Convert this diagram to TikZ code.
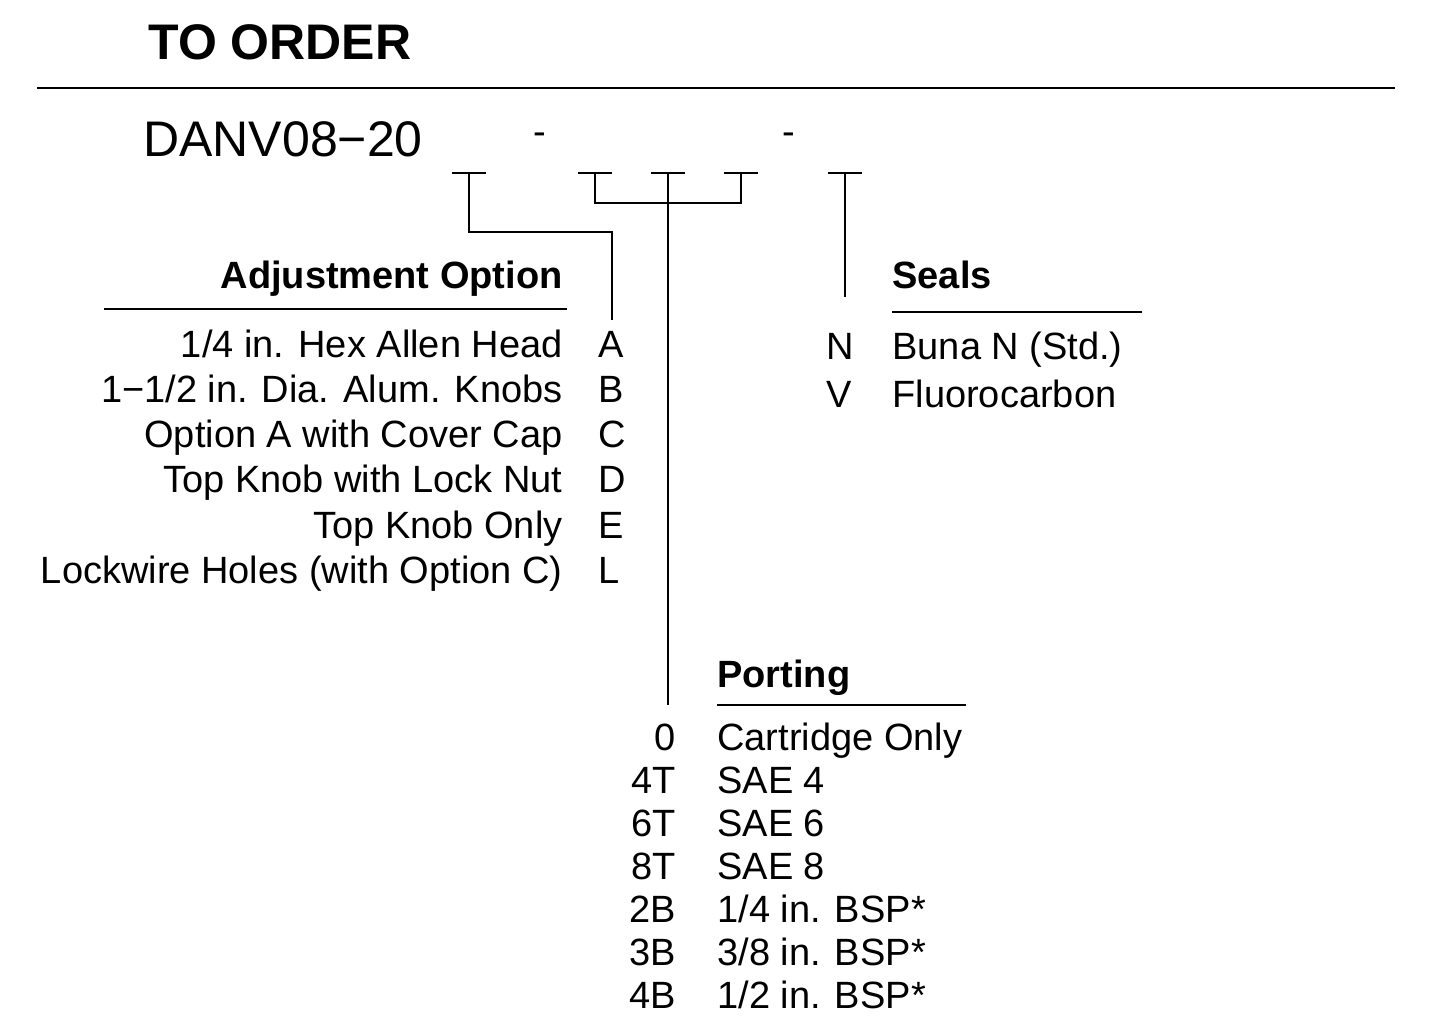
\documentclass[tikz,border=0pt]{standalone}
\usepackage{fontspec}
\setmainfont{Liberation Sans}
\begin{document}
\begin{tikzpicture}[x=0.5pt,y=-0.5pt,
  txt/.style={inner sep=0pt,font=\fontsize{19}{19}\selectfont},
  hd/.style={inner sep=0pt,font=\fontsize{19}{19}\selectfont\bfseries},
  ln/.style={line width=1.1pt}]
\useasboundingbox (0,0) rectangle (1440,1026);
\node[inner sep=0pt,anchor=base west,font=\fontsize{25}{25}\selectfont\bfseries] (title) at (148,60) {TO ORDER};
\coordinate (r1) at (37,88); \coordinate (r2) at (1395,88);
\draw[ln] (r1) -- (r2);
\node[inner sep=0pt,anchor=base west,font=\fontsize{25}{25}\selectfont] (model) at (143,157) {DANV08−20};
\node[txt,anchor=base] (d1) at (540,145) {-};
\node[txt,anchor=base] (d2) at (789,145) {-};
% brackets
\foreach \n/\x in {a/469,b/595,c/668,d/741,e/845}{
  \coordinate (\n l) at (\x-17,173); \coordinate (\n r) at (\x+17,173); \coordinate (\n t) at (\x,173);
  \draw[ln] (\n l) -- (\n r);}
\coordinate (a1) at (469,232); \coordinate (a2) at (612,232); \coordinate (a3) at (612,320);
\draw[ln] (at) -- (a1) -- (a2) -- (a3);
\coordinate (b1) at (595,203); \coordinate (d1c) at (741,203); \coordinate (c1) at (668,705);
\draw[ln] (bt) -- (b1) -- (d1c) -- (dt);
\draw[ln] (ct) -- (c1);
\coordinate (e1) at (845,297);
\draw[ln] (et) -- (e1);
% Adjustment
\node[hd,anchor=base east] (adj) at (563,289) {Adjustment Option};
\coordinate (u1) at (104,309); \coordinate (u2) at (567,309); \draw[ln] (u1) -- (u2);
\foreach \i/\t/\c in {0/{1/4 in. Hex Allen Head}/A,1/{1−1/2 in. Dia. Alum. Knobs}/B,2/{Option A with Cover Cap}/C,3/{Top Knob with Lock Nut}/D,4/{Top Knob Only}/E,5/{Lockwire Holes (with Option C)}/L}{
  \node[txt,anchor=base east] (adjt\i) at (563,358+45*\i) {\t};
  \node[txt,anchor=base west] (adjc\i) at (598,358+45*\i) {\c};}
% Seals
\node[hd,anchor=base west] (seals) at (892,289) {Seals};
\coordinate (s1) at (892,312); \coordinate (s2) at (1142,312); \draw[ln] (s1) -- (s2);
\node[txt,anchor=base west] (sn) at (826,360) {N};
\node[txt,anchor=base west] (snt) at (892,360) {Buna N (Std.)};
\node[txt,anchor=base west] (sv) at (826,408) {V};
\node[txt,anchor=base west] (svt) at (892,408) {Fluorocarbon};
% Porting
\node[hd,anchor=base west] (port) at (717,687) {Porting};
\coordinate (p1) at (717,705); \coordinate (p2) at (966,705); \draw[ln] (p1) -- (p2);
\foreach \i/\c/\t in {0/0/Cartridge Only,1/4T/SAE 4,2/6T/SAE 6,3/8T/SAE 8,4/2B/{1/4 in. BSP*},5/3B/{3/8 in. BSP*},6/4B/{1/2 in. BSP*}}{
  \node[txt,anchor=base east] (pc\i) at (676,750+43*\i) {\c};
  \node[txt,anchor=base west] (pt\i) at (717,750+43*\i) {\t};}
\end{tikzpicture}
\end{document}
